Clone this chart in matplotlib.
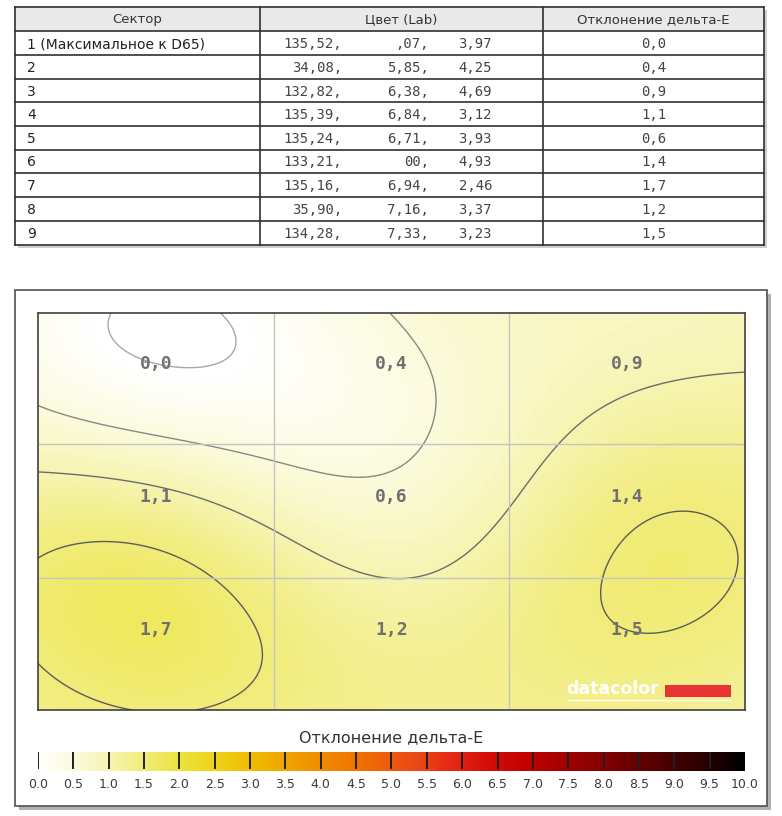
import numpy as np
import matplotlib
matplotlib.use("Agg")
import matplotlib.pyplot as plt
from matplotlib.colors import LinearSegmentedColormap
from matplotlib.patches import Rectangle

# --- data ---
sectors = ["1 (Максимальное к D65)", "2", "3", "4", "5", "6", "7", "8", "9"]
lab_l = ["135,52,", "34,08,", "132,82,", "135,39,", "135,24,", "133,21,", "135,16,", "35,90,", "134,28,"]
lab_a = [",07,", "5,85,", "6,38,", "6,84,", "6,71,", "00,", "6,94,", "7,16,", "7,33,"]
lab_b = ["3,97", "4,25", "4,69", "3,12", "3,93", "4,93", "2,46", "3,37", "3,23"]
delta_e = [0.0, 0.4, 0.9, 1.1, 0.6, 1.4, 1.7, 1.2, 1.5]
headers = ["Сектор", "Цвет (Lab)", "Отклонение дельта-E"]
contour_levels = [0.0, 0.5, 1.0, 1.5]
cbar_ticks = np.arange(0, 10.5, 0.5)
cmap_nodes = [0, 0.5, 1, 1.5, 2, 2.5, 3, 3.5, 4, 4.5, 5, 5.5, 6, 6.5, 7, 7.5, 8, 8.5, 9, 9.5, 10]
cmap_colors = ["#ffffff", "#fcfbdc", "#f7f4b0", "#f1ec78", "#ece43a", "#efd21c", "#f0bc00", "#f0a500",
               "#f08c00", "#f07400", "#ee5a10", "#e84018", "#e02010", "#d00808", "#c00000", "#a00000",
               "#850000", "#650000", "#450000", "#250000", "#000000"]

W, H = 782, 816
fig = plt.figure(figsize=(W / 100, H / 100), dpi=100)
fig.patch.set_facecolor("white")

bg = fig.add_axes([0, 0, 1, 1])
bg.set_xlim(0, W)
bg.set_ylim(H, 0)
bg.axis("off")

def fx(px):
    return px / W

def fy(py):
    return 1 - py / H

# --- table ---
t_left, t_right = 15, 764
col_x = [15, 260, 543, 764]
row_y = [7, 31, 55, 79, 102, 126, 150, 173, 197, 221, 245]
bg.add_patch(Rectangle((t_left + 3, row_y[0] + 3), t_right - t_left, row_y[-1] - row_y[0],
                       facecolor="#b0b0b0", edgecolor="none", alpha=0.6))
bg.add_patch(Rectangle((t_left, row_y[0]), t_right - t_left, row_y[-1] - row_y[0],
                       facecolor="white", edgecolor="none"))
bg.add_patch(Rectangle((t_left, row_y[0]), t_right - t_left, row_y[1] - row_y[0],
                       facecolor="#e9e9e9", edgecolor="none"))
for y in row_y:
    bg.plot([t_left, t_right], [y, y], color="#303030", lw=1.2)
for x in col_x:
    bg.plot([x, x], [row_y[0], row_y[-1]], color="#303030", lw=1.2)

for i, h in enumerate(headers):
    bg.text((col_x[i] + col_x[i + 1]) / 2, (row_y[0] + row_y[1]) / 2 + 1, h,
            ha="center", va="center", fontsize=9.5, color="#333333", family="DejaVu Sans")

for r in range(len(sectors)):
    yc = (row_y[r + 1] + row_y[r + 2]) / 2 + 1
    bg.text(27, yc, sectors[r], ha="left", va="center", fontsize=10, color="#222222",
            family="DejaVu Sans")
    bg.text(342, yc, lab_l[r], ha="right", va="center", fontsize=10, color="#444444",
            family="DejaVu Sans Mono")
    bg.text(429, yc, lab_a[r], ha="right", va="center", fontsize=10, color="#444444",
            family="DejaVu Sans Mono")
    bg.text(492, yc, lab_b[r], ha="right", va="center", fontsize=10, color="#444444",
            family="DejaVu Sans Mono")
    bg.text(654, yc, f"{delta_e[r]:.1f}".replace(".", ","), ha="center", va="center",
            fontsize=10, color="#444444", family="DejaVu Sans Mono")

# --- panel ---
p_left, p_top, p_right, p_bot = 15, 290, 767, 806
bg.add_patch(Rectangle((p_left + 4, p_top + 4), p_right - p_left, p_bot - p_top,
                       facecolor="#909090", edgecolor="none", alpha=0.7))
bg.add_patch(Rectangle((p_left, p_top), p_right - p_left, p_bot - p_top,
                       facecolor="white", edgecolor="#505050", lw=1.2))

# --- heatmap (smooth surface through the 9 sector values) ---
cmap = LinearSegmentedColormap.from_list("de", list(zip(np.array(cmap_nodes) / 10, cmap_colors)))
hx0, hy0, hx1, hy1 = 38, 313, 745, 710
ax = fig.add_axes([fx(hx0), fy(hy1), fx(hx1 - hx0), (hy1 - hy0) / H])
vals = np.array(delta_e).reshape(3, 3)

# measurement points sit a little above the middle of each sector
x_lo, x_hi = -0.5, 2.5
y_lo, y_hi = -0.38, 2.6
y_grid = [0.6, 1.61]

gx, gy = np.meshgrid([0, 1, 2], [0, 1, 2])
gx, gy, gv = gx.ravel(), gy.ravel(), vals.ravel()
eps_x, eps_y = 0.95, 1.3

def kern(dx, dy):
    return np.exp(-(dx / eps_x) ** 2 - (dy / eps_y) ** 2)

mean_v = gv.mean()
w = np.linalg.solve(kern(gx[:, None] - gx[None, :], gy[:, None] - gy[None, :]), gv - mean_v)

S, T = np.meshgrid(np.linspace(x_lo, x_hi, 420), np.linspace(y_lo, y_hi, 300))
Z = mean_v + (kern(S[..., None] - gx, T[..., None] - gy) * w).sum(-1)

ax.imshow(np.clip(Z, 0, 10), cmap=cmap, vmin=0, vmax=10, extent=[x_lo, x_hi, y_hi, y_lo],
          aspect="auto", interpolation="bilinear")
ax.contour(S, T, Z, levels=contour_levels, colors=["#a8a8a8", "#888888", "#6c6c6c", "#5c5c5c"],
           linewidths=1.0)
for g in [0.5, 1.5]:
    ax.axvline(g, color="#c4c4c4", lw=1)
for g in y_grid:
    ax.axhline(g, color="#c4c4c4", lw=1)
for i in range(3):
    for j in range(3):
        ax.text(j, i, f"{vals[i, j]:.1f}".replace(".", ","), ha="center", va="center",
                fontsize=13, fontweight="bold", color="#707070", family="DejaVu Sans Mono")
ax.set_xlim(x_lo, x_hi)
ax.set_ylim(y_hi, y_lo)
ax.set_xticks([])
ax.set_yticks([])
for sp in ax.spines.values():
    sp.set_color("#404040")
    sp.set_linewidth(1.2)

# datacolor logo
ax.text(0.747, 0.052, "datacolor", transform=ax.transAxes, ha="left", va="center",
        fontsize=12.5, fontweight="bold", color="white", family="DejaVu Sans")
ax.add_patch(Rectangle((0.887, 0.033), 0.093, 0.03, transform=ax.transAxes,
                       facecolor="#e83434", edgecolor="none"))
ax.plot([0.749, 0.98], [0.025, 0.025], transform=ax.transAxes, color="white", lw=1)

# --- colour bar ---
bg.text(391, 738, "Отклонение дельта-E", ha="center", va="center", fontsize=11.5,
        color="#333333", family="DejaVu Sans")
cax = fig.add_axes([fx(38), fy(771), fx(707), 19 / H])
grad = np.linspace(0, 10, 1000).reshape(1, -1)
cax.imshow(grad, cmap=cmap, vmin=0, vmax=10, extent=[0, 10, 0, 1], aspect="auto")
cax.vlines(cbar_ticks[:-1], 0.1, 1, color="#202020", lw=1.4)
cax.set_xlim(0, 10)
cax.set_ylim(0, 1)
cax.set_yticks([])
cax.set_xticks(cbar_ticks)
cax.set_xticklabels([f"{v:.1f}" for v in cbar_ticks], fontsize=9, color="#3a3a3a")
cax.tick_params(axis="x", length=0, pad=5)
for sp in cax.spines.values():
    sp.set_visible(False)

fig.savefig("out.png", dpi=100, facecolor="white")
